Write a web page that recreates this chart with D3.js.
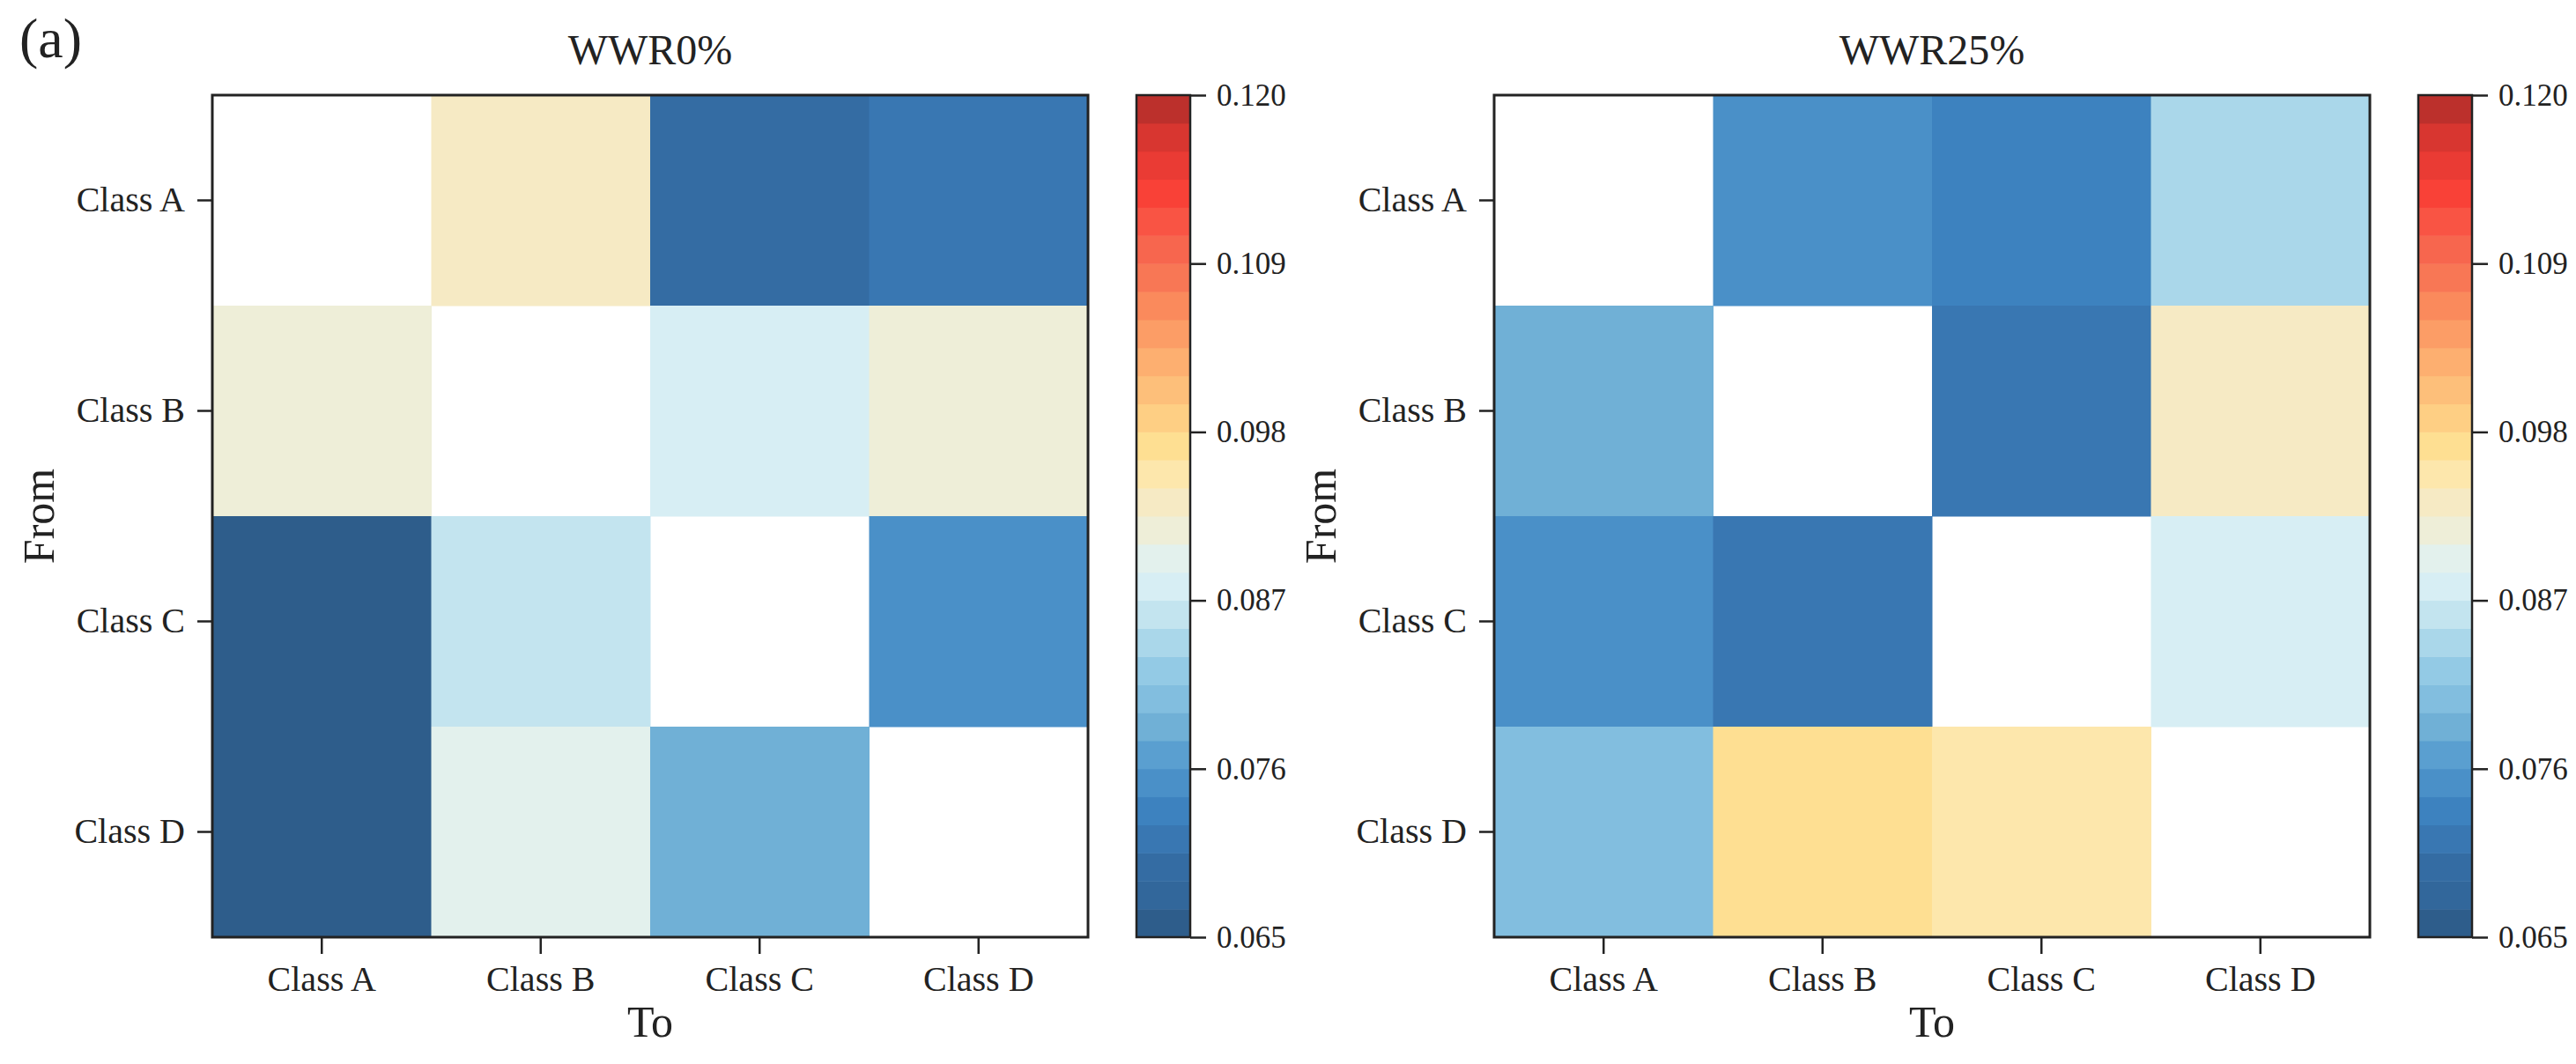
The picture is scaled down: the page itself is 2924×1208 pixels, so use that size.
<!DOCTYPE html>
<html>
<head>
<meta charset="utf-8">
<script src="https://cdn.jsdelivr.net/npm/d3@7"></script>
<style>
  body { margin: 0; background: #fff; }
  text { fill: #222; }
</style>
</head>
<body>
<div id="chart"></div>
<script>
const classes = ["Class A", "Class B", "Class C", "Class D"];
const titles = ["WWR0%", "WWR25%"];
// rows = From, columns = To, diagonal empty
const wwr0 = [
  [null, 0.0934, 0.0687, 0.0714],
  [0.0916, null, 0.0879, 0.0916],
  [0.0659, 0.0861, null, 0.0751],
  [0.0659, 0.0898, 0.0788, null]
];
const wwr25 = [
  [null, 0.0751, 0.0733, 0.0843],
  [0.0788, null, 0.0714, 0.0934],
  [0.0751, 0.0714, null, 0.0879],
  [0.0806, 0.0971, 0.0953, null]
];
const cbTicks = [0.065, 0.076, 0.087, 0.098, 0.109, 0.120];

// 30 discrete colour steps, low -> high
const palette = [
  "#2e5d8b", "#32679b", "#346ca3", "#3977b2", "#3d82bf", "#4a90c8",
  "#5a9fd0", "#70b0d6", "#82bedf", "#93cae5", "#aad7ea", "#c3e4ef",
  "#d7eef4", "#e3f1ed", "#eeeed8", "#f6eac4", "#fde7ac", "#fedf92",
  "#fecf84", "#fdbf7a", "#fdaf70", "#fc9d66", "#fa8a5c", "#f87755",
  "#f7664e", "#f95444", "#f94137", "#ea3b34", "#d83630", "#bc302c"
];

const FONT = "'Liberation Serif', 'Times New Roman', Times, serif";
const W = 2924, H = 1208;
const PLOT_W = 994, PLOT_H = 956, TOP = 108;
const PANEL_X = [241, 1696];
const CB_GAP = 55, CB_W = 61;
const TICK = 19, TICK_PAD = 12;
const LINE = "#222";

const color = d3.scaleQuantize().domain([0.065, 0.120]).range(palette);

const svg = d3.select("#chart").append("svg")
  .attr("width", W)
  .attr("height", H)
  .style("font-family", FONT);

svg.append("text")
  .attr("x", 22)
  .attr("y", 65)
  .style("font-family", FONT)
  .style("font-size", "64px")
  .text("(a)");

function styleAxis(g, size) {
  g.select(".domain").remove();
  g.selectAll("line").attr("stroke", LINE).attr("stroke-width", 2.5);
  g.selectAll("text")
    .attr("fill", "#222")
    .style("font-family", FONT)
    .style("font-size", size);
}

function drawPanel(data, title, left) {
  const x = d3.scaleBand().domain(classes).range([left, left + PLOT_W]);
  const y = d3.scaleBand().domain(classes).range([TOP, TOP + PLOT_H]);

  const cells = [];
  data.forEach((row, i) => row.forEach((v, j) => {
    if (v !== null) cells.push({from: classes[i], to: classes[j], v});
  }));

  svg.append("g")
    .selectAll("rect")
    .data(cells)
    .join("rect")
    .attr("x", d => x(d.to))
    .attr("y", d => y(d.from))
    .attr("width", x.bandwidth() + 0.5)
    .attr("height", y.bandwidth() + 0.5)
    .attr("fill", d => color(d.v));

  svg.append("rect")
    .attr("x", left)
    .attr("y", TOP)
    .attr("width", PLOT_W)
    .attr("height", PLOT_H)
    .attr("fill", "none")
    .attr("stroke", LINE)
    .attr("stroke-width", 3);

  svg.append("g")
    .attr("transform", `translate(0,${TOP + PLOT_H})`)
    .call(d3.axisBottom(x).tickSize(TICK).tickSizeOuter(0).tickPadding(TICK_PAD + 2))
    .call(g => styleAxis(g, "40px"));

  svg.append("g")
    .attr("transform", `translate(${left},0)`)
    .call(d3.axisLeft(y).tickSize(TICK - 2).tickSizeOuter(0).tickPadding(TICK_PAD + 2))
    .call(g => styleAxis(g, "40px"));

  svg.append("text")
    .attr("x", left + PLOT_W / 2)
    .attr("y", 73)
    .attr("text-anchor", "middle")
    .style("font-family", FONT)
    .style("font-size", "48px")
    .text(title);

  svg.append("text")
    .attr("x", left + PLOT_W / 2)
    .attr("y", 1177)
    .attr("text-anchor", "middle")
    .style("font-family", FONT)
    .style("font-size", "50px")
    .text("To");

  svg.append("text")
    .attr("transform", `translate(${left - 180},${TOP + PLOT_H / 2}) rotate(-90)`)
    .attr("text-anchor", "middle")
    .style("font-family", FONT)
    .style("font-size", "50px")
    .text("From");

  // colour bar
  const cbX = left + PLOT_W + CB_GAP;
  const cbScale = d3.scaleLinear().domain([0.065, 0.120]).range([TOP + PLOT_H, TOP]);
  const step = (0.120 - 0.065) / palette.length;

  svg.append("g")
    .selectAll("rect")
    .data(palette)
    .join("rect")
    .attr("x", cbX)
    .attr("y", (c, i) => cbScale(0.065 + (i + 1) * step))
    .attr("width", CB_W)
    .attr("height", (c, i) => cbScale(0.065 + i * step) - cbScale(0.065 + (i + 1) * step) + 0.5)
    .attr("fill", c => c);

  svg.append("rect")
    .attr("x", cbX)
    .attr("y", TOP)
    .attr("width", CB_W)
    .attr("height", PLOT_H)
    .attr("fill", "none")
    .attr("stroke", LINE)
    .attr("stroke-width", 2.5);

  svg.append("g")
    .attr("transform", `translate(${cbX + CB_W},0)`)
    .call(d3.axisRight(cbScale).tickValues(cbTicks).tickFormat(d3.format(".3f"))
      .tickSize(18).tickSizeOuter(0).tickPadding(12))
    .call(g => styleAxis(g, "35px"));
}

drawPanel(wwr0, titles[0], PANEL_X[0]);
drawPanel(wwr25, titles[1], PANEL_X[1]);
</script>
</body>
</html>
